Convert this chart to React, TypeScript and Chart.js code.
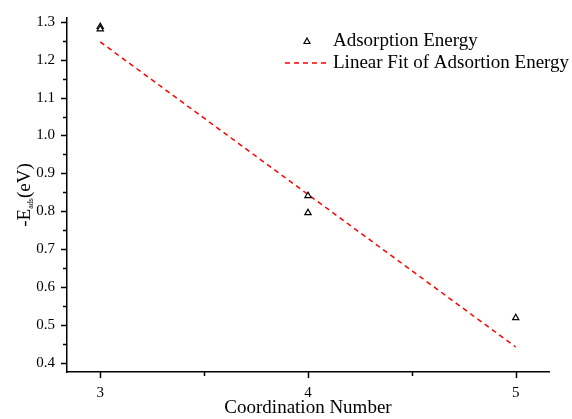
import React, { useEffect, useRef } from "react";
import { Chart, registerables } from "chart.js";

Chart.register(...registerables);

const coordX = [3, 3, 4, 4, 5];
const adsorptionEnergy = [1.287, 1.281, 0.841, 0.796, 0.519];
const fitX = [3, 5];
const fitY = [1.247, 0.442];
const xTickValues = [3, 3.5, 4, 4.5, 5];
const yTickValues = [0.4, 0.45, 0.5, 0.55, 0.6, 0.65, 0.7, 0.75, 0.8, 0.85, 0.9, 0.95, 1.0, 1.05, 1.1, 1.15, 1.2, 1.25, 1.3];
const seriesLabels = ["Adsorption Energy", "Linear Fit of Adsortion Energy"];
const xTitle = "Coordination Number";

const FONT = "'Liberation Serif', 'Times New Roman', serif";

const isMajor = (v: number, step: number) => Math.abs(v / step - Math.round(v / step)) < 1e-6;

const decorPlugin = {
  id: "decor",
  afterDraw(chart: any) {
    const ctx = chart.ctx;
    const xs = chart.scales.x;
    const ys = chart.scales.y;
    const area = chart.chartArea;
    ctx.save();
    ctx.strokeStyle = "#000";
    ctx.lineWidth = 1.5;
    xTickValues.forEach((v) => {
      const px = Math.round(xs.getPixelForValue(v)) + 0.5;
      const len = isMajor(v, 1) ? 6 : 4;
      ctx.beginPath();
      ctx.moveTo(px, area.bottom);
      ctx.lineTo(px, area.bottom + len);
      ctx.stroke();
    });
    yTickValues.forEach((v) => {
      const py = Math.round(ys.getPixelForValue(v)) + 0.5;
      const len = isMajor(v, 0.1) ? 6 : 4;
      ctx.beginPath();
      ctx.moveTo(area.left, py);
      ctx.lineTo(area.left - len, py);
      ctx.stroke();
    });
    // y title with subscript
    ctx.fillStyle = "#000";
    ctx.translate(29.5, 195);
    ctx.rotate(-Math.PI / 2);
    ctx.textBaseline = "alphabetic";
    const big = "19px " + FONT;
    const small = "8px " + FONT;
    const p1 = "-E";
    const p3 = "(eV)";
    ctx.font = small;
    const w2 = ctx.measureText("ads").width;
    ctx.font = big;
    const w1 = ctx.measureText(p1).width;
    const w3 = ctx.measureText(p3).width;
    const x0 = -(w1 + w2 + w3) / 2;
    ctx.fillText(p1, x0, 0);
    ctx.font = small;
    ctx.fillText("ads", x0 + w1, 3);
    ctx.font = big;
    ctx.fillText(p3, x0 + w1 + w2, 0);
    ctx.restore();

    // legend
    ctx.save();
    ctx.font = "19px " + FONT;
    ctx.fillStyle = "#000";
    ctx.textBaseline = "middle";
    const lx = 333;
    const ly1 = 41;
    const ly2 = 63;
    ctx.strokeStyle = "#000";
    ctx.lineWidth = 1.2;
    ctx.beginPath();
    ctx.moveTo(307, ly1 - 3);
    ctx.lineTo(310, ly1 + 2.5);
    ctx.lineTo(304, ly1 + 2.5);
    ctx.closePath();
    ctx.stroke();
    ctx.fillText(seriesLabels[0], lx, ly1);
    ctx.strokeStyle = "#ff0000";
    ctx.lineWidth = 1.5;
    ctx.setLineDash([5, 4]);
    ctx.beginPath();
    ctx.moveTo(285, ly2);
    ctx.lineTo(329, ly2);
    ctx.stroke();
    ctx.setLineDash([]);
    ctx.fillText(seriesLabels[1], lx, ly2);
    ctx.restore();
  },
};

export default function App() {
  const ref = useRef<HTMLCanvasElement>(null);
  useEffect(() => {
    if (!ref.current) return;
    const chart = new Chart(ref.current, {
      type: "scatter",
      data: {
        datasets: [
          {
            label: seriesLabels[0],
            data: coordX.map((x, i) => ({ x, y: adsorptionEnergy[i] })),
            pointStyle: "triangle",
            pointRadius: 3.6,
            pointBorderWidth: 1.2,
            borderColor: "#000",
            backgroundColor: "#fff",
            showLine: false,
          },
          {
            label: seriesLabels[1],
            data: fitX.map((x, i) => ({ x, y: fitY[i] })),
            showLine: true,
            pointRadius: 0,
            borderColor: "#ff0000",
            borderWidth: 1.5,
            borderDash: [5, 4],
            backgroundColor: "#ff0000",
          },
        ],
      },
      options: {
        animation: false,
        responsive: false,
        layout: { padding: { top: 18, right: 23, left: 0, bottom: 0 } },
        plugins: { legend: { display: false }, tooltip: { enabled: false } },
        scales: {
          x: {
            type: "linear",
            min: 2.84,
            max: 5.16,
            grid: { display: false },
            border: { display: true, color: "#000", width: 1.5 },
            afterBuildTicks: (axis: any) => {
              axis.ticks = xTickValues.map((v) => ({ value: v }));
            },
            afterFit: (axis: any) => {
              axis.height = 47;
            },
            ticks: {
              padding: 4,
              color: "#000",
              font: { family: FONT, size: 15 },
              callback: (v: any) => (isMajor(Number(v), 1) ? String(v) : ""),
              maxRotation: 0,
              autoSkip: false,
            },
            title: {
              display: true,
              text: xTitle,
              color: "#000",
              font: { family: FONT, size: 19 },
              padding: { top: 0, bottom: 0 },
            },
          },
          y: {
            type: "linear",
            min: 0.376,
            max: 1.31,
            grid: { display: false },
            border: { display: true, color: "#000", width: 1.5 },
            afterBuildTicks: (axis: any) => {
              axis.ticks = yTickValues.map((v) => ({ value: v }));
            },
            afterFit: (axis: any) => {
              axis.width = 67;
            },
            ticks: {
              padding: 4,
              color: "#000",
              font: { family: FONT, size: 15 },
              callback: (v: any) => (isMajor(Number(v), 0.1) ? Number(v).toFixed(1) : ""),
              autoSkip: false,
            },
          },
        },
      },
      plugins: [decorPlugin],
    });
    return () => chart.destroy();
  }, []);
  return (
    <div style={{ position: "fixed", left: 0, top: 0, width: 572, height: 419, background: "#fff" }}>
      <canvas ref={ref} width={572} height={419} />
    </div>
  );
}
